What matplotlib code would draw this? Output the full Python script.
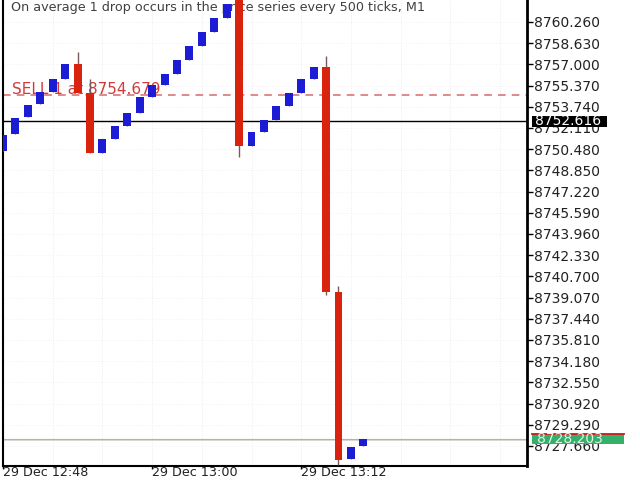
import matplotlib
matplotlib.use("Agg")
import matplotlib.pyplot as plt
import matplotlib.transforms as mtransforms
from matplotlib.patches import Rectangle
import numpy as np

# ---- data ----
opens = [8750.34, 8751.65, 8752.96, 8753.96, 8754.88, 8755.88, 8757.03, 8754.80,
         8750.19, 8751.26, 8752.26, 8753.26, 8754.49, 8755.42, 8756.26, 8757.34,
         8758.41, 8759.49, 8760.57, 8762.60, 8750.73, 8751.80, 8752.73, 8753.80,
         8754.80, 8755.88, 8756.80, 8739.50, 8726.66, 8727.66]
closes = [8751.57, 8752.88, 8753.88, 8754.88, 8755.88, 8757.03, 8754.80, 8750.19,
          8751.26, 8752.26, 8753.26, 8754.49, 8755.42, 8756.26, 8757.34, 8758.41,
          8759.49, 8760.57, 8761.64, 8750.73, 8751.80, 8752.73, 8753.80, 8754.80,
          8755.88, 8756.80, 8739.50, 8726.58, 8727.58, 8728.20]
highs = [8751.57, 8752.88, 8753.88, 8754.88, 8755.88, 8757.03, 8757.95, 8755.88,
         8751.26, 8752.26, 8753.26, 8754.49, 8755.42, 8756.26, 8757.34, 8758.41,
         8759.49, 8760.57, 8761.64, 8762.80, 8751.80, 8752.73, 8753.80, 8754.80,
         8755.88, 8756.80, 8757.65, 8739.96, 8727.58, 8728.20]
lows = [8750.34, 8751.65, 8752.96, 8753.96, 8754.88, 8755.88, 8754.80, 8750.19,
        8750.19, 8751.26, 8752.26, 8753.26, 8754.49, 8755.42, 8756.26, 8757.34,
        8758.41, 8759.49, 8760.57, 8749.88, 8750.73, 8751.80, 8752.73, 8753.80,
        8754.80, 8755.88, 8739.27, 8726.20, 8726.66, 8727.66]

price_ticks = [8727.660, 8729.290, 8730.920, 8732.550, 8734.180, 8735.810, 8737.440,
               8739.070, 8740.700, 8742.330, 8743.960, 8745.590, 8747.220, 8748.850,
               8750.480, 8752.110, 8753.740, 8755.370, 8757.000, 8758.630, 8760.260]
time_tick_pos = [0, 12, 24]
time_tick_labels = ["29 Dec 12:48", "29 Dec 13:00", "29 Dec 13:12"]

sell_price = 8754.679
bid_price = 8752.616
last_price = 8728.203
title_text = "On average 1 drop occurs in the price series every 500 ticks, M1"
sell_text = "SELL 1 at 8754.679"

# ---- figure ----
fig = plt.figure(figsize=(6.4, 4.8), dpi=100)
W, H = 640, 480
ax = fig.add_axes([3 / W, 14 / H, 524 / W, 466 / H])
ax.set_xlim(0.08, 42.17)
ax.set_ylim(8726.12, 8761.95)

blue = "#1c1cd4"
red = "#d9230f"
tick_fs = 10

# faint grid
for gx in np.arange(4, 44, 4):
    ax.axvline(gx, color="#e6e6e6", lw=0.6, ls=(0, (1, 2)), zorder=0)
for gy in price_ticks:
    ax.axhline(gy, color="#eeeeee", lw=0.6, ls=(0, (1, 2)), zorder=0)

# top text and sell label (behind candles)
ax.text(8 / 524, 1 - 7 / 466, title_text, transform=ax.transAxes, fontsize=9.2,
        color="#404040", ha="left", va="center", zorder=1)
ax.text(0.75, sell_price + 0.38, sell_text, fontsize=11, color="#d23a3a",
        ha="left", va="center", zorder=1)

# horizontal lines
ax.axhline(sell_price, color="#d46a6a", lw=1.1, ls=(0, (5, 4)), zorder=2)
ax.axhline(bid_price, color="black", lw=1.0, zorder=2)
ax.axhline(last_price - 0.08, color="#cfd8cf", lw=1.2, zorder=2)
ax.axhline(last_price, color="#dba0a0", lw=0.8, zorder=2)

# candles
idx = np.arange(len(opens))
o = np.array(opens); c = np.array(closes)
colors = [blue if cc >= oo else red for oo, cc in zip(o, c)]
ax.vlines(idx, lows, highs, color="#7a5a5a", lw=1.0, zorder=3)
ax.bar(idx, np.abs(c - o), bottom=np.minimum(o, c), width=0.64,
       color=colors, edgecolor="none", zorder=4)

# axes styling
ax.spines["top"].set_visible(False)
ax.spines["left"].set_linewidth(1.5)
ax.spines["bottom"].set_linewidth(1.5)
ax.spines["right"].set_linewidth(2.0)
for s in ["left", "bottom", "right"]:
    ax.spines[s].set_color("black")

ax.yaxis.tick_right()
ax.set_yticks(price_ticks)
ax.set_yticklabels([f"{v:.3f}" for v in price_ticks])
ax.tick_params(axis="y", which="both", direction="out", length=4, width=1,
               pad=1, labelsize=tick_fs, colors="black", left=False)
ax.set_xticks(time_tick_pos)
ax.set_xticklabels(time_tick_labels)
ax.tick_params(axis="x", direction="out", length=2, width=1, pad=5.2,
               labelsize=9.2, colors="black")
for lab in ax.get_xticklabels():
    lab.set_horizontalalignment("left")
    lab.set_verticalalignment("baseline")
for lab in ax.get_yticklabels() + ax.get_xticklabels():
    lab.set_color("#222222")

# price label boxes on the right
trans = mtransforms.blended_transform_factory(ax.transAxes, ax.transData)
px2v = 1 / 13.006
x0 = (532 - 3) / 524
# bid box (black)
ax.add_patch(Rectangle((x0, bid_price - 6 * px2v), (607 - 532) / 524, 11.5 * px2v,
                       transform=trans, facecolor="black", edgecolor="none",
                       clip_on=False, zorder=6))
ax.text((535 - 3) / 524, bid_price, f"{bid_price:.3f}", transform=trans,
        fontsize=tick_fs, color="white", ha="left", va="center", zorder=7,
        clip_on=False)
# last price box (green)
g_top = 8728.58
ax.add_patch(Rectangle((x0, g_top - 10 * px2v), (624 - 532) / 524, 10 * px2v,
                       transform=trans, facecolor="#35b06a", edgecolor="none",
                       clip_on=False, zorder=6))
ax.plot([x0, x0 + (624 - 532) / 524], [g_top, g_top], transform=trans,
        color="#d01818", lw=1.3, clip_on=False, zorder=7)
ax.text((537 - 3) / 524, g_top - 5 * px2v, f"{last_price:.3f}", transform=trans,
        fontsize=tick_fs, color="#dff3e6", ha="left", va="center", zorder=7,
        clip_on=False)

fig.savefig("out.png", dpi=100, facecolor="white")
